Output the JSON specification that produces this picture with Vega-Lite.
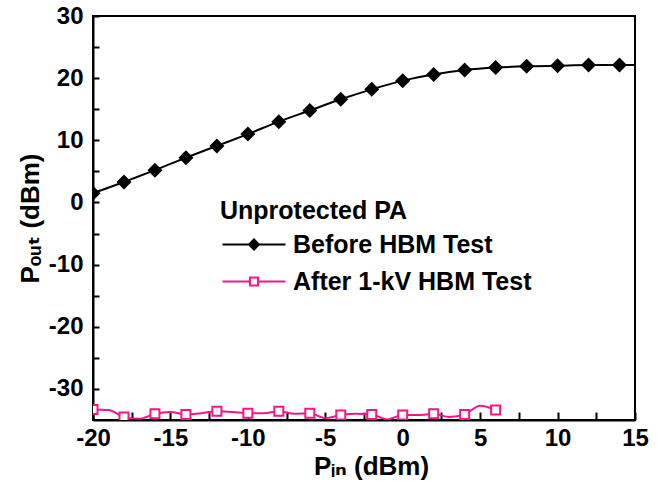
{
  "$schema": "https://vega.github.io/schema/vega-lite/v6.json",
  "width": 542,
  "height": 404,
  "autosize": {"type": "none"},
  "padding": {"left": 93, "top": 16, "right": 35, "bottom": 68},
  "background": "white",
  "config": {
    "view": {"stroke": "black", "strokeWidth": 2},
    "font": "Liberation Sans",
    "axis": {
      "grid": false,
      "domainColor": "black",
      "domainWidth": 2,
      "tickColor": "black",
      "tickWidth": 2,
      "labelFont": "Liberation Sans",
      "labelFontWeight": "bold",
      "labelFontSize": 24,
      "labelColor": "black",
      "titleFont": "Liberation Sans, DejaVu Sans",
      "titleFontWeight": "bold",
      "titleFontSize": 26,
      "titleColor": "black"
    }
  },
  "data": {
    "values": [
      {"series": "Before HBM Test", "Pin": -20, "Pout": 1.5},
      {"series": "Before HBM Test", "Pin": -18, "Pout": 3.3},
      {"series": "Before HBM Test", "Pin": -16, "Pout": 5.2},
      {"series": "Before HBM Test", "Pin": -14, "Pout": 7.2},
      {"series": "Before HBM Test", "Pin": -12, "Pout": 9.1},
      {"series": "Before HBM Test", "Pin": -10, "Pout": 11.0},
      {"series": "Before HBM Test", "Pin": -8, "Pout": 13.0},
      {"series": "Before HBM Test", "Pin": -6, "Pout": 14.8},
      {"series": "Before HBM Test", "Pin": -4, "Pout": 16.6},
      {"series": "Before HBM Test", "Pin": -2, "Pout": 18.2},
      {"series": "Before HBM Test", "Pin": 0, "Pout": 19.6},
      {"series": "Before HBM Test", "Pin": 2, "Pout": 20.6},
      {"series": "Before HBM Test", "Pin": 4, "Pout": 21.3},
      {"series": "Before HBM Test", "Pin": 6, "Pout": 21.7},
      {"series": "Before HBM Test", "Pin": 8, "Pout": 21.9},
      {"series": "Before HBM Test", "Pin": 10, "Pout": 22.0},
      {"series": "Before HBM Test", "Pin": 12, "Pout": 22.1},
      {"series": "Before HBM Test", "Pin": 14, "Pout": 22.1},
      {"series": "Before HBM Test", "Pin": 15, "Pout": 22.1},
      {"series": "After 1-kV HBM Test", "Pin": -20, "Pout": -33.3},
      {"series": "After 1-kV HBM Test", "Pin": -19, "Pout": -33.4},
      {"series": "After 1-kV HBM Test", "Pin": -18, "Pout": -34.5},
      {"series": "After 1-kV HBM Test", "Pin": -17, "Pout": -34.8},
      {"series": "After 1-kV HBM Test", "Pin": -16, "Pout": -34.0},
      {"series": "After 1-kV HBM Test", "Pin": -15, "Pout": -33.7},
      {"series": "After 1-kV HBM Test", "Pin": -14, "Pout": -34.1},
      {"series": "After 1-kV HBM Test", "Pin": -13, "Pout": -33.9},
      {"series": "After 1-kV HBM Test", "Pin": -12, "Pout": -33.6},
      {"series": "After 1-kV HBM Test", "Pin": -11, "Pout": -33.7},
      {"series": "After 1-kV HBM Test", "Pin": -10, "Pout": -33.9},
      {"series": "After 1-kV HBM Test", "Pin": -9, "Pout": -33.9},
      {"series": "After 1-kV HBM Test", "Pin": -8, "Pout": -33.6},
      {"series": "After 1-kV HBM Test", "Pin": -7, "Pout": -34.0},
      {"series": "After 1-kV HBM Test", "Pin": -6, "Pout": -33.9},
      {"series": "After 1-kV HBM Test", "Pin": -5, "Pout": -34.7},
      {"series": "After 1-kV HBM Test", "Pin": -4, "Pout": -34.2},
      {"series": "After 1-kV HBM Test", "Pin": -3, "Pout": -34.0},
      {"series": "After 1-kV HBM Test", "Pin": -2, "Pout": -34.1},
      {"series": "After 1-kV HBM Test", "Pin": -1, "Pout": -34.9},
      {"series": "After 1-kV HBM Test", "Pin": 0, "Pout": -34.2},
      {"series": "After 1-kV HBM Test", "Pin": 1, "Pout": -34.2},
      {"series": "After 1-kV HBM Test", "Pin": 2, "Pout": -34.0},
      {"series": "After 1-kV HBM Test", "Pin": 3, "Pout": -34.5},
      {"series": "After 1-kV HBM Test", "Pin": 4, "Pout": -34.1},
      {"series": "After 1-kV HBM Test", "Pin": 5, "Pout": -32.7},
      {"series": "After 1-kV HBM Test", "Pin": 6, "Pout": -33.4}
    ]
  },
  "encoding": {
    "x": {
      "field": "Pin",
      "type": "quantitative",
      "scale": {"domain": [-20, 15], "nice": false, "zero": false},
      "axis": {
        "title": "Pᵢₙ (dBm)",
        "values": [-20, -17.5, -15, -12.5, -10, -7.5, -5, -2.5, 0, 2.5, 5, 7.5, 10, 12.5, 15],
        "labelExpr": "datum.value % 5 == 0 ? replace(datum.label, '−', '-') : ''",
        "tickSize": -8,
        "labelPadding": 14,
        "titlePadding": 3,
        "titleX": 278,
        "labelFlush": false,
        "labelOverlap": false
      }
    },
    "y": {
      "field": "Pout",
      "type": "quantitative",
      "scale": {"domain": [-35, 30], "nice": false, "zero": false},
      "axis": {
        "title": "Pₒᵤₜ (dBm)",
        "values": [-30, -25, -20, -15, -10, -5, 0, 5, 10, 15, 20, 25, 30],
        "labelExpr": "datum.value % 10 == 0 ? replace(datum.label, '−', '-') : ''",
        "tickSize": -6,
        "labelPadding": 16,
        "titlePadding": 5,
        "labelFlush": false,
        "labelOverlap": false
      }
    }
  },
  "layer": [
    {
      "mark": {"type": "line", "strokeWidth": 2, "interpolate": "monotone", "clip": true},
      "encoding": {
        "color": {
          "field": "series",
          "type": "nominal",
          "sort": null,
          "scale": {"domain": ["Before HBM Test", "After 1-kV HBM Test"], "range": ["black", "#f5158a"]},
          "legend": {
            "title": "Unprotected PA",
            "orient": "none",
            "legendX": 127,
            "legendY": 183,
            "padding": 0,
            "titleFont": "Liberation Sans",
            "titleFontSize": 25,
            "titleFontWeight": "bold",
            "titleColor": "black",
            "titlePadding": 8,
            "titleLimit": 0,
            "labelFont": "Liberation Sans",
            "labelFontSize": 25,
            "labelFontWeight": "bold",
            "labelColor": "black",
            "labelLimit": 0,
            "labelOffset": 48,
            "rowPadding": 11,
            "symbolSize": 400,
            "symbolStrokeWidth": 2,
            "encode": {
              "symbols": {
                "update": {
                  "shape": {"signal": "datum.value == 'Before HBM Test' ? 'M-1,0H5.3M2.15,-0.5L2.65,0L2.15,0.5L1.65,0Z' : 'M-1,0H1.75M2.55,0H5.3M1.75,-0.4H2.55V0.4H1.75Z'"},
                  "fill": {"signal": "datum.value == 'Before HBM Test' ? 'black' : 'white'"},
                  "stroke": {"signal": "datum.value == 'Before HBM Test' ? 'black' : '#f5158a'"},
                  "strokeWidth": {"value": 2},
                  "opacity": {"value": 1},
                  "fillOpacity": {"value": 1}
                }
              }
            }
          }
        }
      }
    },
    {
      "transform": [{"filter": "datum.series == 'Before HBM Test' && datum.Pin % 2 == 0"}],
      "mark": {"type": "point", "shape": "diamond", "filled": true, "color": "black", "size": 225, "opacity": 1, "clip": true}
    },
    {
      "transform": [{"filter": "datum.series == 'After 1-kV HBM Test' && datum.Pin % 2 == 0"}],
      "mark": {"type": "point", "shape": "square", "filled": true, "fill": "white", "stroke": "#f5158a", "strokeWidth": 2, "size": 81, "opacity": 1, "fillOpacity": 1, "clip": true}
    }
  ]
}
